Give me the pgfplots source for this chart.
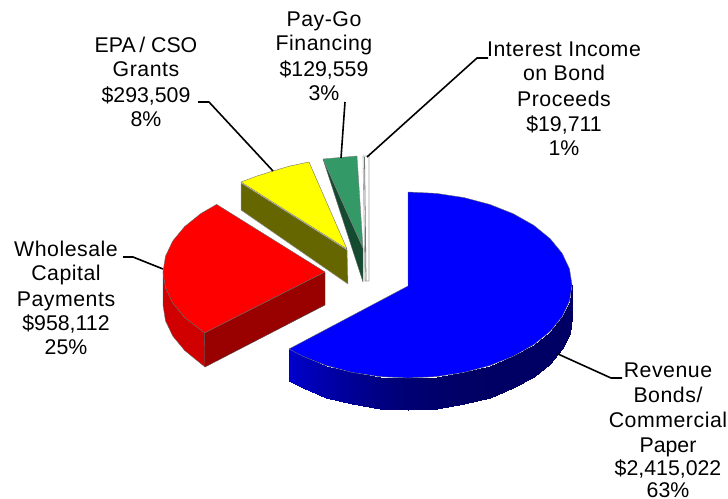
\documentclass[border=0pt]{standalone}
\usepackage{fontspec}
\setmainfont{Liberation Sans}
\newfontfamily\wide[LetterSpace=2.5]{Liberation Sans}
\usepackage{pgfplots}
\pgfplotsset{compat=1.18}

\definecolor{yellowtop}{RGB}{255,255,0}
\definecolor{olivewall}{RGB}{102,102,0}
\definecolor{greentop}{RGB}{51,153,102}
\definecolor{greenwall}{RGB}{20,74,47}
\definecolor{redwall}{RGB}{208,0,0}
\definecolor{redcut}{RGB}{153,0,0}

% one text line, placed on its baseline
\newcommand{\lbl}[3]{\node[anchor=base,inner sep=0pt,font=\fontsize{21.3bp}{24bp}\selectfont] at (axis cs:#1,#2) {#3};}
% same, tracked a little wider for the word lines
\newcommand{\wlbl}[3]{\node[anchor=base,inner sep=0pt,font=\fontsize{21.3bp}{24bp}\wide] at (axis cs:#1,#2) {#3};}

\begin{document}
\begin{tikzpicture}
% hide axis adds nothing to the bounding box, so fix it here
\useasboundingbox (0,0) rectangle (728bp,499bp);
\begin{axis}[
    anchor=south west, at={(0,0)},
    scale only axis,
    width=728bp, height=499bp,
    xmin=0, xmax=728,
    ymin=0, ymax=499,
    y dir=reverse,
    hide axis,
    clip=false,
    no markers,
    every axis plot/.append style={forget plot, line join=round},
]

% interest income sliver
\addplot[fill=white,draw=black!35,line width=.6bp] coordinates {(363,156)(369,156)(369,281)(365,281)} --cycle;
\addplot[draw=black!55,line width=.8bp] coordinates {(364.5,157)(366,281)};

% pay-go
\addplot[fill=greenwall,draw=black!60,line width=.4bp] coordinates {(323,159)(363,248)(363,282)} --cycle;
\addplot[fill=greentop,draw=black!50,line width=.4bp] coordinates {(323,159)(357,156)(363,248)} --cycle;

% EPA / CSO
\addplot[fill=olivewall,draw=black!45,line width=.5bp] coordinates {(241,183)(347,250)(348,284)(241,210)} --cycle;
\addplot[fill=yellowtop,draw=black!55,line width=.4bp] coordinates {(241,182)(257,176)(273,171)(290,166)(309,162)(347,249)} --cycle;

% wholesale, walls then top
\addplot[fill=redwall,draw=black!60,line width=.4bp] coordinates {(163,272)(165.5,287.8)(172.8,303.1)(184.7,317.5)(204.6,332.9)(205,367)(184.7,350.5)(172.8,336.1)(165.5,320.8)(163,305)} --cycle;
\addplot[fill=redcut,draw=black!70,line width=.4bp] coordinates {(204.6,333)(325,272)(325,305)(205,367)} --cycle;
\addplot[fill=red,draw=black!60,line width=.4bp] coordinates {(325,272)(216.6,204.4)(200.9,213.5)(184.7,226.5)(172.8,240.9)(165.5,256.2)(163,272)(165.5,287.8)(172.8,303.1)(184.7,317.5)(204.6,332.9)} --cycle;

% revenue bonds, rim then top
\addplot[patch, patch type=rectangle, shader=interp, point meta=explicit,
    point meta min=100, point meta max=205,
    colormap={rimblue}{rgb255=(0,0,100) rgb255=(0,0,205)}]
    table[meta=c] {
x y c
289 349 205
302.6 356.2 190
302.6 388.2 190
289 381 205
302.6 356.2 190
326 365.5 170
326 397.5 170
302.6 388.2 190
326 365.5 170
351.9 372.4 150
351.9 404.4 150
326 397.5 170
351.9 372.4 150
379.5 376.6 130
379.5 408.6 130
351.9 404.4 150
379.5 376.6 130
408 378 115
408 410 115
379.5 408.6 130
408 378 115
436.5 376.6 107
436.5 408.6 107
408 410 115
436.5 376.6 107
464.1 372.4 102
464.1 404.4 102
436.5 408.6 107
464.1 372.4 102
490 365.5 100
490 397.5 100
464.1 404.4 102
490 365.5 100
513.4 356.2 100
513.4 388.2 100
490 397.5 100
513.4 356.2 100
533.6 344.8 100
533.6 376.8 100
513.4 388.2 100
533.6 344.8 100
550 331.5 100
550 363.5 100
533.6 376.8 100
550 331.5 100
562.1 316.8 100
562.1 348.8 100
550 363.5 100
562.1 316.8 100
569.5 301.1 100
569.5 333.1 100
562.1 348.8 100
569.5 301.1 100
572 285 100
572 317 100
569.5 333.1 100
};
\addplot[fill=blue,draw=black!60,line width=.4bp] coordinates {
    (408,286)(408,192)(436.5,193.4)(464.1,197.6)(490,204.5)(513.4,213.8)(533.6,225.2)(550,238.5)
    (562.1,253.2)(569.5,268.9)(572,285)(569.5,301.1)(562.1,316.8)(550,331.5)(533.6,344.8)(513.4,356.2)
    (490,365.5)(464.1,372.4)(436.5,376.6)(408,378)(379.5,376.6)(351.9,372.4)(326,365.5)(302.6,356.2)(289,349)} --cycle;

% leader lines
\addplot[black,line width=1.6bp] coordinates {(123,257)(133,257)(163,269)};
\addplot[black,line width=1.6bp] coordinates {(198,102)(209,102)(273,171)};
\addplot[black,line width=1.6bp] coordinates {(345,102)(341,158)};
\addplot[black,line width=1.6bp] coordinates {(488,58)(477,58)(367,157)};
\addplot[black,line width=1.6bp] coordinates {(558,354)(611,378)(622,378)};

% labels
\lbl{146}{53}{EPA\,/ CSO}
\wlbl{146}{77}{Grants}
\lbl{146}{103}{\$293,509}
\lbl{146}{127}{8\%}

\wlbl{324}{27}{Pay-Go}
\wlbl{324}{51}{Financing}
\lbl{324}{77}{\$129,559}
\lbl{324}{101}{3\%}

\wlbl{564}{57}{Interest Income}
\wlbl{564}{81}{on Bond}
\wlbl{564}{107}{Proceeds}
\lbl{564}{131}{\$19,711}
\lbl{564}{155}{1\%}

\wlbl{66}{256}{Wholesale}
\wlbl{66}{280}{Capital}
\wlbl{66}{306}{Payments}
\lbl{66}{330}{\$958,112}
\lbl{66}{354}{25\%}

\wlbl{668}{377}{Revenue}
\wlbl{668}{402}{Bonds/}
\wlbl{668}{427}{Commercial}
\lbl{668}{452}{Paper}
\lbl{668}{475}{\$2,415,022}
\lbl{668}{497}{63\%}

\end{axis}
\end{tikzpicture}
\end{document}
